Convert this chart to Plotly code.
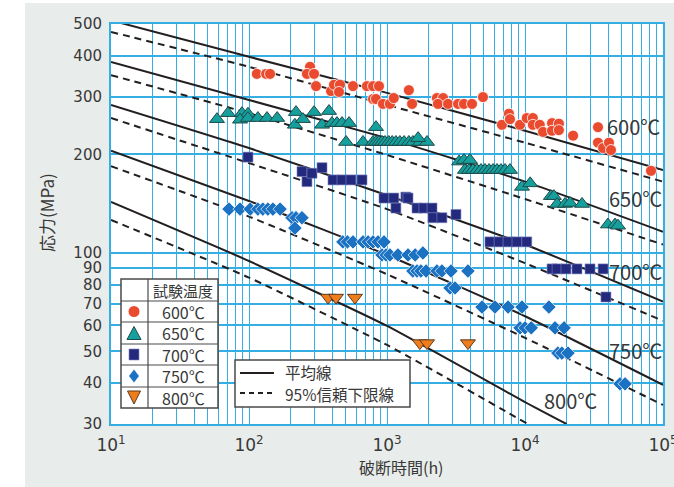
import plotly.graph_objects as go

# ---------------- creep rupture test data: rupture time (h) / stress (MPa) ----------------
t600 = [114, 133, 142, 277, 263, 296, 306, 393, 413, 456, 449, 567, 716, 792, 875, 792, 832,
        935, 1050, 1120, 1440, 1520, 2300, 2550, 2340, 2770, 3270, 3610, 4130, 4960, 6810,
        7650, 7780, 9200, 10300, 11400, 11400, 12800, 13500, 15700, 15700, 17600, 17600,
        22300, 33800, 33800, 36800, 40600, 42000, 81900]
s600 = [352, 352, 352, 370, 352, 352, 323, 312, 326, 326, 310, 323, 323, 323, 323, 295, 295,
        285, 285, 297, 314, 285, 297, 297, 285, 285, 285, 285, 285, 299, 246,
        266, 256, 246, 258, 258, 246, 246, 234, 249, 236, 248, 237,
        228, 242, 217, 209, 217, 206, 178]

t650 = [58.6, 70.4, 88.9, 98.3, 86.1, 98.3, 116, 135, 160, 219, 215, 246, 296, 338, 380, 399,
        434, 472, 531, 505, 670, 832,
        792, 832, 875, 920, 968, 1030, 1090, 1160, 1240, 1330, 1440, 1540, 1730, 1950, 1680,
        3330, 3610, 3990,
        3670, 3930, 4200, 4490, 4800, 5130, 5490, 5870, 6270, 6700, 7170, 7780,
        9510, 10900, 15400, 16200, 17100, 19500, 21200, 25900, 39900, 44900, 47200]
s650 = [256, 267, 267, 266, 255, 258, 258, 258, 258, 269, 246, 256, 269, 246, 271, 249,
        249, 249, 249, 218, 218, 242,
        218, 218, 218, 218, 218, 218, 218, 218, 218, 218, 218, 218, 218, 218, 224,
        190, 192, 192,
        179, 179, 179, 179, 179, 179, 179, 179, 179, 179, 179, 179,
        159, 163, 149, 149, 141, 141, 142, 141, 122, 122, 121]

t700 = [98.3, 242, 263, 286, 338, 406, 472, 548, 659, 951, 1120, 1370, 1420, 1160, 1650, 1850,
        2120, 2150, 2500, 3160, 5570, 6490, 7540, 8750, 10300, 15700, 17100, 19800, 23800,
        29600, 36800, 38600]
s700 = [196, 177, 165, 175, 182, 167, 167, 167, 167, 147, 147, 148, 147, 137, 137, 137,
        137, 128, 128, 131, 108, 108, 108, 108, 108, 89.3, 89.3, 89.3, 89.3,
        89.3, 89.3, 73.3]

t750 = [71.6, 86.1, 102, 116, 126, 137, 149, 168,
        205, 219, 242, 215,
        479, 517, 567, 670, 729, 792, 861, 951,
        920, 984, 1050, 1200, 1420, 1600, 1820,
        1540, 1650, 1760, 1920, 2300, 2500, 2910, 3860,
        2860, 3110,
        4880, 6060, 7540, 9510, 14900,
        9200, 10000, 11100, 16500, 19200,
        17300, 18500, 20500,
        48800, 53100]
s750 = [136, 136, 136, 136, 136, 136, 136, 136,
        128, 128, 128, 119,
        108, 108, 108, 108, 108, 108, 108, 108,
        98.5, 98.5, 98.5, 98.5, 98.5, 98.5, 99.9,
        88, 88, 88, 88, 88, 88, 88, 88,
        78.1, 78.1,
        68.3, 68.3, 68.3, 68.3, 68.3,
        59, 59, 59, 59, 59,
        49.4, 49.4, 49.4,
        39.8, 39.8]

t800 = [374, 427, 586, 1730, 1950, 3860]
s800 = [73, 73, 73, 53, 53, 53]

# ---------------- mean curves and 95% lower confidence curves ----------------
t_fit = [10, 100, 1000, 10000, 100000]
mean600 = [513, 397, 308, 236, 179]
low600 = [473, 370, 283, 217, 165]
mean650 = [383, 293, 224, 165, 116]
low650 = [349, 267, 199, 146, 106]
mean700 = [283, 209, 150, 106, 71]
low700 = [258, 188, 136, 93, 62]
mean750 = [205, 144, 98.5, 64, 39.5]
low750 = [184, 129, 86, 55, 34.3]
t_mean800 = [10, 100, 1000, 10000, 20000]
mean800 = [143, 94.4, 59.8, 35, 30]
t_low800 = [10, 100, 1000, 10500]
low800 = [126, 84, 52.3, 30]

# ---------------- axis ticks ----------------
x_decades = [1, 2, 3, 4, 5]
y_ticks = [30, 40, 50, 60, 70, 80, 90, 100, 200, 300, 400, 500]
temp_labels = ["600℃", "650℃", "700℃", "750℃", "800℃"]

GRID = "#35aee4"
INK = "#231f20"
TXT = "#383838"
JP = "Noto Sans CJK JP"
NUM = "DejaVu Sans"

# vertical grid at every 1..9 x 10^n; only the decades carry a label
x_grid = []
x_text = []
for d in x_decades[:-1]:
    for m in range(1, 10):
        x_grid.append(m * 10 ** d)
        x_text.append("10<sup>%d</sup>" % d if m == 1 else "")
x_grid.append(10 ** x_decades[-1])
x_text.append("10<sup>%d</sup>" % x_decades[-1])

fig = go.Figure()

curves = [
    (t_fit, mean600, "solid"), (t_fit, low600, "dash"),
    (t_fit, mean650, "solid"), (t_fit, low650, "dash"),
    (t_fit, mean700, "solid"), (t_fit, low700, "dash"),
    (t_fit, mean750, "solid"), (t_fit, low750, "dash"),
    (t_mean800, mean800, "solid"), (t_low800, low800, "dash"),
]
for tx, sy, dash in curves:
    fig.add_trace(go.Scatter(
        x=tx, y=sy, mode="lines", hoverinfo="skip", showlegend=False,
        line=dict(color=INK, width=2, dash="solid" if dash == "solid" else "7px,5px",
                  shape="spline", smoothing=0.5)))

series = [
    (t600, s600, "circle", 11, "#ea4a2e", "#ffffff", 0.8),
    (t650, s650, "triangle-up", 13, "#16a09d", "#1e4a4a", 1.0),
    (t700, s700, "square", 10, "#232a7e", "#7f86bd", 0.6),
    (t750, s750, "diamond", 11, "#1b72c2", "#ffffff", 0.7),
    (t800, s800, "triangle-down", 13, "#f07d1c", "#5a3b22", 1.0),
]
for (tx, sy, sym, size, col, edge, ew), name in zip(series, temp_labels):
    fig.add_trace(go.Scatter(
        x=tx, y=sy, mode="markers", name=name, showlegend=False,
        marker=dict(symbol=sym, size=size, color=col, line=dict(color=edge, width=ew))))

# ---------------- layout geometry (pixels -> paper) ----------------
W, H = 674, 487
L, R, T, B = 111, 663, 24, 424


def px(x):
    return (x - L) / (R - L)


def py(y):
    return (B - y) / (B - T)


shapes = []
# white strips around the grey panel
shapes.append(dict(type="rect", xref="paper", yref="paper", layer="below",
                   x0=px(-5), x1=px(25), y0=py(H + 5), y1=py(-5),
                   fillcolor="#ffffff", line=dict(width=0)))
shapes.append(dict(type="rect", xref="paper", yref="paper", layer="below",
                   x0=px(-5), x1=px(W + 5), y0=py(3), y1=py(-5),
                   fillcolor="#ffffff", line=dict(width=0)))

# temperature key table
BOX = "#4a4a4a"
shapes.append(dict(type="rect", xref="paper", yref="paper", layer="above",
                   x0=px(121), x1=px(218), y0=py(408), y1=py(279),
                   fillcolor="#ffffff", line=dict(color=BOX, width=1.5)))
shapes.append(dict(type="line", xref="paper", yref="paper", layer="above",
                   x0=px(148), x1=px(148), y0=py(408), y1=py(279),
                   line=dict(color=BOX, width=1.2)))
for yy in [301, 322, 344, 365, 387]:
    shapes.append(dict(type="line", xref="paper", yref="paper", layer="above",
                       x0=px(121), x1=px(218), y0=py(yy), y1=py(yy),
                       line=dict(color=BOX, width=1.2)))

row_y = [311.5, 333, 354.5, 376, 397.5]
mx = 134


def path(points):
    return "M " + " L ".join("%.5f,%.5f" % (px(a), py(b)) for a, b in points) + " Z"


# key glyphs
shapes.append(dict(type="circle", xref="paper", yref="paper", layer="above",
                   x0=px(mx - 5.5), x1=px(mx + 5.5), y0=py(row_y[0] + 5.5), y1=py(row_y[0] - 5.5),
                   fillcolor="#ea4a2e", line=dict(width=0)))
shapes.append(dict(type="path", xref="paper", yref="paper", layer="above",
                   path=path([(mx - 7, row_y[1] + 6.5), (mx + 7, row_y[1] + 6.5), (mx, row_y[1] - 6.5)]),
                   fillcolor="#16a09d", line=dict(color="#1e4a4a", width=1)))
shapes.append(dict(type="rect", xref="paper", yref="paper", layer="above",
                   x0=px(mx - 5), x1=px(mx + 5), y0=py(row_y[2] + 5.5), y1=py(row_y[2] - 5.5),
                   fillcolor="#232a7e", line=dict(color="#7f86bd", width=0.6)))
shapes.append(dict(type="path", xref="paper", yref="paper", layer="above",
                   path=path([(mx, row_y[3] - 6.5), (mx + 5, row_y[3]), (mx, row_y[3] + 6.5), (mx - 5, row_y[3])]),
                   fillcolor="#1b72c2", line=dict(width=0)))
shapes.append(dict(type="path", xref="paper", yref="paper", layer="above",
                   path=path([(mx - 6.5, row_y[4] - 6.5), (mx + 6.5, row_y[4] - 6.5), (mx, row_y[4] + 6.5)]),
                   fillcolor="#f07d1c", line=dict(color="#5a3b22", width=1)))

# line-style key
shapes.append(dict(type="rect", xref="paper", yref="paper", layer="above",
                   x0=px(235), x1=px(410), y0=py(407), y1=py(360),
                   fillcolor="#ffffff", line=dict(color=BOX, width=1.5)))
shapes.append(dict(type="line", xref="paper", yref="paper", layer="above",
                   x0=px(240), x1=px(274), y0=py(373), y1=py(373),
                   line=dict(color=INK, width=2)))
shapes.append(dict(type="line", xref="paper", yref="paper", layer="above",
                   x0=px(240), x1=px(274), y0=py(393), y1=py(393),
                   line=dict(color=INK, width=2, dash="5px,4px")))

ann = []


def text(x, y, s, size, xanchor="center", family=JP, angle=0):
    ann.append(dict(xref="paper", yref="paper", x=px(x), y=py(y), text=s, showarrow=False,
                    xanchor=xanchor, yanchor="middle", textangle=angle,
                    font=dict(family=family, size=size, color=TXT)))


text(183, 290, "試験温度", 15)
for yy, lab in zip(row_y, temp_labels):
    text(183, yy, lab, 16)
text(283, 372, "平均線", 15.5, xanchor="left")
text(283, 394, "95%信頼下限線", 15.5, xanchor="left")

# curve labels
text(633, 127, temp_labels[0], 20)
text(635, 198, temp_labels[1], 20)
text(635, 271, temp_labels[2], 20)
text(635, 350, temp_labels[3], 20)
text(570, 400, temp_labels[4], 20)

# axis titles
text(401, 467, "破断時間(h)", 16)
text(46, 213, "応力(MPa)", 17, angle=-90)

fig.update_layout(
    width=W, height=H, autosize=False,
    margin=dict(l=L, r=W - R, t=T, b=H - B, pad=0, autoexpand=False),
    paper_bgcolor="#e8ecea", plot_bgcolor="#ffffff",
    shapes=shapes, annotations=ann, showlegend=False,
    xaxis=dict(type="log", range=[1, 5], tickmode="array", tickvals=x_grid, ticktext=x_text,
               showgrid=True, gridcolor=GRID, gridwidth=1.3, zeroline=False,
               showline=True, linecolor=GRID, linewidth=2, mirror=True, ticks="",
               ticklabelstandoff=5, ticklabeloverflow="allow", tickangle=0, automargin=False,
               tickfont=dict(family=NUM, size=17, color=TXT)),
    yaxis=dict(type="log", range=[1.47712, 2.69897], tickmode="array", tickvals=y_ticks,
               ticktext=[str(v) for v in y_ticks],
               showgrid=True, gridcolor=GRID, gridwidth=1.6, zeroline=False,
               showline=True, linecolor=GRID, linewidth=2, mirror=True, ticks="",
               ticklabelstandoff=4, automargin=False,
               tickfont=dict(family=NUM, size=15, color=TXT)),
)

fig.write_html("out.html")
